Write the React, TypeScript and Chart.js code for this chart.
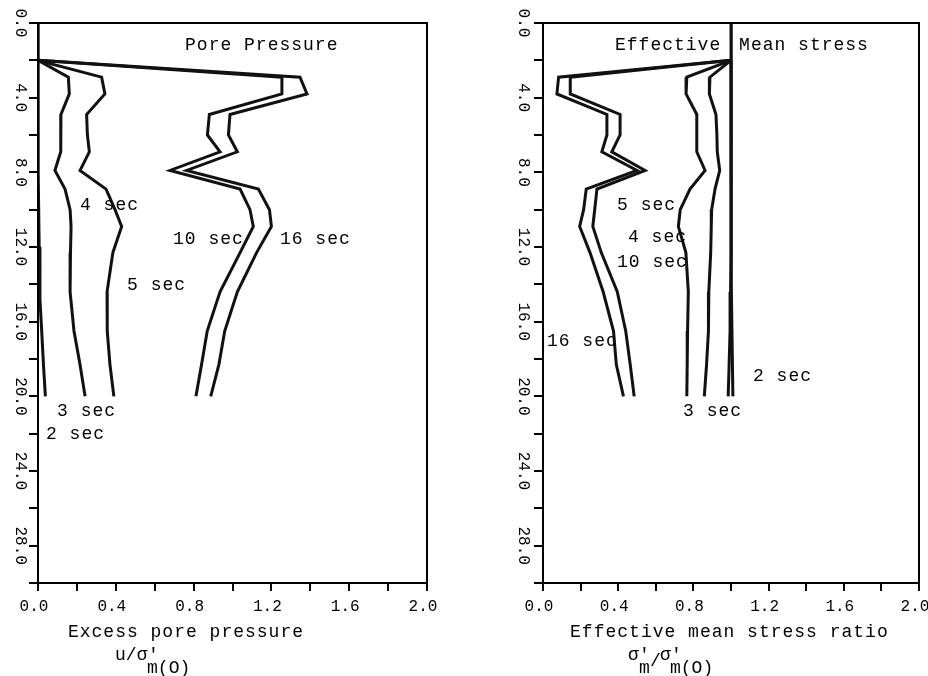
import React, { useEffect, useRef } from 'react';
import { Chart, registerables } from 'chart.js';

Chart.register(...registerables);

// ---------- data ----------
const depths = [2, 2.9, 3.8, 4.9, 6.0, 6.9, 7.9, 8.9, 10.0, 10.9, 12.3, 14.4, 16.5, 18.3, 20.0];

// Left panel: excess pore pressure u/σ'm(0)
const pore16 = [0, 1.347, 1.383, 0.987, 0.979, 1.025, 0.764, 1.133, 1.19, 1.2, 1.124, 1.025, 0.96, 0.93, 0.888];
const pore10 = [0, 1.254, 1.254, 0.881, 0.871, 0.936, 0.679, 1.039, 1.09, 1.107, 1.039, 0.936, 0.87, 0.841, 0.812];
const pore5 = [0, 0.327, 0.344, 0.25, 0.254, 0.264, 0.216, 0.35, 0.396, 0.43, 0.385, 0.355, 0.356, 0.37, 0.39];
const pore3 = [0, 0.156, 0.161, 0.118, 0.117, 0.117, 0.087, 0.139, 0.165, 0.17, 0.167, 0.165, 0.185, 0.216, 0.242];
const pore2Depths = [0, 2, 8, 12, 14.8, 16.5, 18.3, 20];
const pore2 = [0, 0, 0.002, 0.006, 0.01, 0.019, 0.028, 0.038];

// Right panel: effective mean stress ratio σ'm/σ'm(0)
const eff16 = [1.0, 0.083, 0.074, 0.34, 0.34, 0.313, 0.5, 0.23, 0.216, 0.195, 0.25, 0.32, 0.375, 0.39, 0.428];
const eff10 = [1.0, 0.145, 0.145, 0.41, 0.41, 0.366, 0.543, 0.287, 0.275, 0.265, 0.31, 0.395, 0.44, 0.464, 0.485];
const eff5 = [1.0, 0.765, 0.761, 0.818, 0.818, 0.818, 0.862, 0.782, 0.73, 0.72, 0.76, 0.773, 0.769, 0.767, 0.765];
const eff4 = [1.0, 0.888, 0.885, 0.92, 0.925, 0.927, 0.94, 0.915, 0.897, 0.895, 0.892, 0.882, 0.88, 0.87, 0.858];
const eff3 = [1.0, 1.0, 1.0, 1.0, 1.0, 1.0, 1.0, 1.0, 1.0, 1.0, 1.0, 0.998, 0.995, 0.99, 0.985];
const eff2Depths = [0, 2, 14, 20];
const eff2 = [1.0, 1.0, 1.003, 1.01];

// Curve annotations (text, x value, depth)
const poreLabels = ['Pore Pressure', '4 sec', '10 sec', '16 sec', '5 sec', '3 sec', '2 sec'];
const poreLabelX = [0.756, 0.216, 0.694, 1.244, 0.458, 0.098, 0.041];
const poreLabelDepth = [1.17, 9.76, 11.6, 11.6, 14.06, 20.8, 22.03];

const effLabels = ['Effective', 'Mean stress', '5 sec', '4 sec', '10 sec', '16 sec', '2 sec', '3 sec'];
const effLabelX = [0.383, 1.043, 0.394, 0.452, 0.394, 0.021, 1.117, 0.745];
const effLabelDepth = [1.17, 1.17, 9.76, 11.5, 12.8, 17.07, 18.9, 20.8];

const poreTitle = 'Excess pore pressure';
const effTitle = 'Effective mean stress ratio';

// ---------- helpers ----------
const FAMILY = "'Liberation Mono', 'DejaVu Sans Mono', monospace";
const TEXT_FONT = `18px ${FAMILY}`;

function series(xs: number[], ys: number[]) {
  return xs.map((v, i) => ({ x: v, y: ys[i] }));
}

function lineDs(label: string, data: { x: number; y: number }[]) {
  return {
    label,
    data,
    showLine: true,
    borderColor: '#111',
    borderWidth: 3,
    pointRadius: 0,
    fill: false,
    tension: 0,
    borderJoinStyle: 'miter' as const,
  };
}

type Formula = { text: string; dx: number; dy: number }[];

const poreFormula: Formula = [
  { text: 'u/σ', dx: 0, dy: 0 },
  { text: "'", dx: 33, dy: 0 },
  { text: 'm(O)', dx: 32, dy: 13 },
];
const effFormula: Formula = [
  { text: 'σ', dx: 0, dy: 0 },
  { text: "'", dx: 11, dy: 0 },
  { text: 'm', dx: 11, dy: 13 },
  { text: '/', dx: 22, dy: 6 },
  { text: 'σ', dx: 32, dy: 0 },
  { text: "'", dx: 43, dy: 0 },
  { text: 'm(O)', dx: 42, dy: 13 },
];

interface PanelProps {
  left: number;
  width: number;
  yWidth: number;
  yLabelPad: number;
  padRight: number;
  datasets: any[];
  labels: string[];
  labelX: number[];
  labelDepth: number[];
  title: string;
  titleX: number;
  formula: Formula;
  formulaX: number;
}

function Panel(p: PanelProps) {
  const ref = useRef<HTMLCanvasElement | null>(null);

  useEffect(() => {
    if (!ref.current) return;
    const decor = {
      id: 'decor',
      afterDraw(chart: any) {
        const ctx = chart.ctx as CanvasRenderingContext2D;
        const a = chart.chartArea;
        const xs = chart.scales.x;
        const ys = chart.scales.y;
        ctx.save();
        // frame
        ctx.strokeStyle = '#000';
        ctx.lineWidth = 2;
        ctx.strokeRect(a.left, a.top, a.right - a.left, a.bottom - a.top);
        // annotations
        ctx.fillStyle = '#000';
        ctx.font = TEXT_FONT;
        (ctx as any).letterSpacing = '1px';
        ctx.textAlign = 'left';
        ctx.textBaseline = 'middle';
        p.labels.forEach((t, i) => {
          ctx.fillText(t, xs.getPixelForValue(p.labelX[i]), ys.getPixelForValue(p.labelDepth[i]));
        });
        // axis title
        ctx.textBaseline = 'alphabetic';
        ctx.fillText(p.title, xs.getPixelForValue(p.titleX), a.bottom + 54);
        (ctx as any).letterSpacing = '0px';
        const fx = xs.getPixelForValue(p.formulaX);
        p.formula.forEach((s) => {
          ctx.fillText(s.text, fx + s.dx, a.bottom + 77 + s.dy);
        });
        ctx.restore();
      },
    };

    const tickFont = { family: FAMILY, size: 16 };
    const chart = new Chart(ref.current, {
      type: 'scatter',
      data: { datasets: p.datasets },
      plugins: [decor],
      options: {
        animation: false,
        responsive: false,
        events: [],
        layout: { padding: { left: 0, right: p.padRight, top: 23, bottom: 0 } },
        plugins: {
          legend: { display: false },
          tooltip: { enabled: false },
          title: { display: false },
        },
        scales: {
          x: {
            type: 'linear',
            position: 'bottom',
            min: 0,
            max: 2,
            ticks: {
              stepSize: 0.2,
              autoSkip: false,
              maxRotation: 0,
              padding: 6,
              labelOffset: -4,
              color: '#000',
              font: tickFont,
              callback: (v: any) => {
                const k = Math.round(Number(v) * 10);
                return k % 4 === 0 ? (k / 10).toFixed(1) : '';
              },
            },
            grid: { drawOnChartArea: false, drawTicks: true, tickLength: 8, color: '#000', lineWidth: 2 },
            border: { display: true, color: '#000', width: 2 },
            afterFit: (s: any) => {
              s.height = 93;
              s.paddingLeft = 0;
              s.paddingRight = 0;
            },
          },
          y: {
            type: 'linear',
            min: 0,
            max: 30,
            reverse: true,
            ticks: {
              stepSize: 2,
              autoSkip: false,
              minRotation: -90,
              maxRotation: 0,
              crossAlign: 'center',
              padding: p.yLabelPad,
              color: '#000',
              font: tickFont,
              callback: (v: any) => {
                const k = Math.round(Number(v));
                return k % 4 === 0 ? k.toFixed(1) : '';
              },
            },
            grid: { drawOnChartArea: false, drawTicks: true, tickLength: 9, color: '#000', lineWidth: 2 },
            border: { display: true, color: '#000', width: 2 },
            afterFit: (s: any) => {
              s.width = p.yWidth;
            },
          },
        },
      } as any,
    });
    return () => chart.destroy();
  }, []);

  return (
    <canvas
      ref={ref}
      width={p.width}
      height={676}
      style={{ position: 'absolute', left: p.left, top: 0, width: p.width, height: 676 }}
    />
  );
}

export default function App() {
  const poreSets = [
    lineDs('2 sec', series(pore2, pore2Depths)),
    lineDs('3 sec', series(pore3, depths)),
    lineDs('5 sec', series(pore5, depths)),
    lineDs('10 sec', series(pore10, depths)),
    lineDs('16 sec', series(pore16, depths)),
  ];
  const effSets = [
    lineDs('2 sec', series(eff2, eff2Depths)),
    lineDs('3 sec', series(eff3, depths)),
    lineDs('4 sec', series(eff4, depths)),
    lineDs('5 sec', series(eff5, depths)),
    lineDs('10 sec', series(eff10, depths)),
    lineDs('16 sec', series(eff16, depths)),
  ];
  return (
    <div style={{ position: 'fixed', left: 0, top: 0, width: 928, height: 676, background: '#fff', overflow: 'hidden' }}>
      <Panel
        left={0}
        width={464}
        yWidth={38}
        yLabelPad={-10}
        padRight={37}
        datasets={poreSets}
        labels={poreLabels}
        labelX={poreLabelX}
        labelDepth={poreLabelDepth}
        title={poreTitle}
        titleX={0.154}
        formula={poreFormula}
        formulaX={0.396}
      />
      <Panel
        left={464}
        width={464}
        yWidth={79}
        yLabelPad={-8}
        padRight={9}
        datasets={effSets}
        labels={effLabels}
        labelX={effLabelX}
        labelDepth={effLabelDepth}
        title={effTitle}
        titleX={0.144}
        formula={effFormula}
        formulaX={0.452}
      />
    </div>
  );
}
